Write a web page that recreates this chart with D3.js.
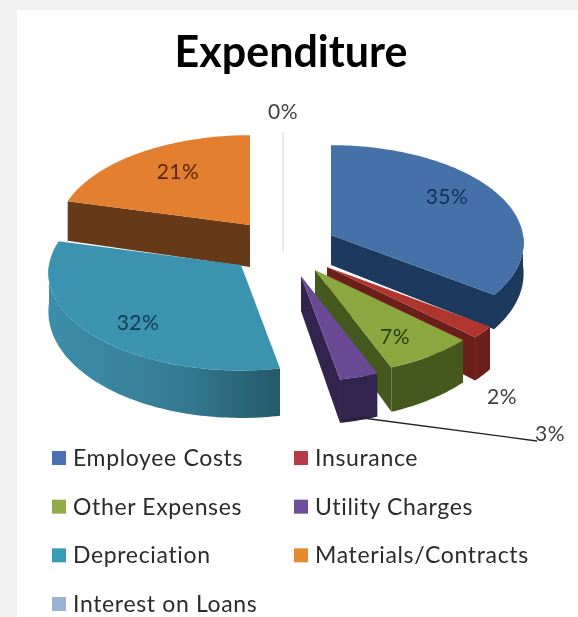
<!DOCTYPE html>
<html>
<head>
<meta charset="utf-8">
<script src="https://cdn.jsdelivr.net/npm/d3@7"></script>
<style>
  html, body { margin: 0; padding: 0; background: #f2f2f2; overflow: hidden; }
  svg { display: block; filter: blur(0.5px); }
  text { font-family: Lato, "Open Sans", sans-serif; }
</style>
</head>
<body>
<svg id="chart" width="578" height="617"></svg>
<script>
const categories = ['Employee Costs', 'Insurance', 'Other Expenses', 'Utility Charges', 'Depreciation', 'Materials/Contracts', 'Interest on Loans'];
const shares = [35, 2, 7, 3, 32, 21, 0];

const topColors = ['#4571a8', '#b0352f', '#8aa83f', '#6a4a94', '#3b93b0', '#e47f2f', '#d6d6d6'];
const wallColors = ['#1d3a5e', '#6b1e1b', '#45591e', '#33234f', '#2f7088', '#663a18', '#e4e4e4'];
const legendColors = ['#4a6fb5', '#b83a44', '#93ab4a', '#6b4f9a', '#3a9bb5', '#e58a2e', '#9ab3d4'];

// exploded position of each slice tip, extrusion height, label centre
const tips = [[331, 235], [327, 267], [315, 270], [301, 276], [241, 265], [250, 225], [283, 222]];
const depths = [30, 37, 36, 35, 38, 42, 30];
const labelAt = [[447, 197], [502, 397], [395, 337], [550, 434], [138, 323], [178, 172], [283, 112]];
const labelFill = ['#12305a', '#404040', '#24400f', '#404040', '#0f3a52', '#5a2608', '#404040'];

const rx = 192, ry = 97, persp = 0.08;

const svg = d3.select('#chart');

svg.append('rect')
  .attr('x', 17).attr('y', 10)
  .attr('width', 561).attr('height', 607)
  .attr('fill', '#fff');

const defs = svg.append('defs');
const tealWall = defs.append('linearGradient').attr('id', 'tealWall');
tealWall.append('stop').attr('offset', '0%').attr('stop-color', '#3c8eaa');
tealWall.append('stop').attr('offset', '55%').attr('stop-color', '#357c94');
tealWall.append('stop').attr('offset', '100%').attr('stop-color', '#245a6a');

svg.append('text')
  .attr('x', 291).attr('y', 67)
  .attr('text-anchor', 'middle')
  .attr('font-size', 43)
  .attr('font-weight', 700)
  .attr('fill', '#000')
  .text('Expenditure');

const slices = d3.pie().sort(null).value(d => d)(shares);
const line = d3.line();

// ellipse point with a little perspective, nearer = bigger
const project = (angle) => {
  const s = Math.sin(angle), c = -Math.cos(angle);
  const k = 1 / (1 - persp * c);
  return [rx * s * k, ry * c * k];
};

const drop = (angle, depth) => depth * (1 + 0.25 * -Math.cos(angle));

const arcAngles = (a0, a1) => {
  const n = Math.max(2, Math.ceil((a1 - a0) / 0.02));
  return d3.range(n + 1).map(i => a0 + (a1 - a0) * i / n);
};

// back to front
const order = [6, 5, 0, 1, 2, 3, 4];

order.forEach(i => {
  const d = slices[i];
  const [tx, ty] = tips[i];
  const depth = depths[i];
  const at = a => { const p = project(a); return [tx + p[0], ty + p[1]]; };
  const g = svg.append('g').attr('class', 'slice');

  const radialWall = a => {
    const p = at(a);
    g.append('path')
      .attr('d', line([[tx, ty], p, [p[0], p[1] + drop(a, depth)], [tx, ty + depth]]) + 'Z')
      .attr('fill', wallColors[i]);
  };

  if (Math.sin(d.startAngle) < -0.01) radialWall(d.startAngle);
  if (Math.sin(d.endAngle) > 0.01) radialWall(d.endAngle);

  // outer wall, front half only
  const a0 = Math.max(d.startAngle, Math.PI / 2);
  const a1 = Math.min(d.endAngle, Math.PI * 1.5);
  if (a1 > a0) {
    const upper = arcAngles(a0, a1).map(at);
    const lower = arcAngles(a0, a1).reverse().map(a => {
      const p = at(a);
      return [p[0], p[1] + drop(a, depth)];
    });
    g.append('path')
      .attr('d', line(upper.concat(lower)) + 'Z')
      .attr('fill', i === 4 ? 'url(#tealWall)' : wallColors[i]);
  }

  if (shares[i] === 0) {
    // zero share: only a hairline is left of the slice
    const p = at(d.startAngle);
    g.append('path')
      .attr('d', line([p, [tx, ty + depth]]))
      .attr('stroke', topColors[i])
      .attr('stroke-width', 1)
      .attr('fill', 'none');
  } else {
    g.append('path')
      .attr('d', line([[tx, ty]].concat(arcAngles(d.startAngle, d.endAngle).map(at))) + 'Z')
      .attr('fill', topColors[i]);
  }
});

// leader for the 3% label
svg.append('path')
  .attr('d', line([[342, 421], [363, 418], [537, 441]]))
  .attr('fill', 'none')
  .attr('stroke', '#222')
  .attr('stroke-width', 1.3);

svg.append('g')
  .selectAll('text')
  .data(shares)
  .join('text')
  .attr('x', (d, i) => labelAt[i][0])
  .attr('y', (d, i) => labelAt[i][1])
  .attr('dy', '0.35em')
  .attr('text-anchor', 'middle')
  .attr('font-size', 21)
  .attr('letter-spacing', 0.5)
  .attr('fill', (d, i) => labelFill[i])
  .text(d => d + '%');

// legend, two columns
const legendX = d3.scalePoint().domain([0, 1]).range([52, 294]);
const legendY = d3.scalePoint().domain([0, 1, 2, 3]).range([451, 597]);

const item = svg.append('g')
  .selectAll('g')
  .data(categories)
  .join('g')
  .attr('transform', (d, i) => `translate(${legendX(i % 2)},${legendY(Math.floor(i / 2))})`);

item.append('rect')
  .attr('width', 14).attr('height', 14)
  .attr('fill', (d, i) => legendColors[i]);

item.append('text')
  .attr('x', 21).attr('y', 15)
  .attr('font-size', 23)
  .attr('letter-spacing', 0.65)
  .attr('fill', '#2b2b2b')
  .text(d => d);
</script>
</body>
</html>
